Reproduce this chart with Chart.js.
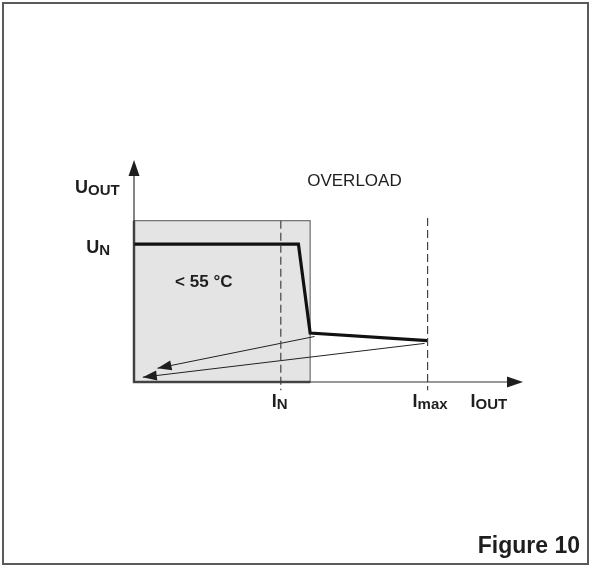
<!DOCTYPE html>
<html lang="en">
<head>
<meta charset="UTF-8">
<title>Figure 10</title>
<script src="https://cdn.jsdelivr.net/npm/chart.js"></script>
<style>
    * { margin: 0; padding: 0; box-sizing: border-box; }
    body { background: #ffffff; width: 592px; height: 567px; overflow: hidden; }
    #wrap { position: relative; width: 592px; height: 567px; }
    #frame {
        position: absolute; left: 2px; top: 2px; width: 587px; height: 563px;
        border: 2px solid #5a5a5a;
    }
    canvas { position: absolute; left: 0; top: 0; }
</style>
</head>
<body>
<div id="wrap">
    <div id="frame"></div>
    <canvas id="chart" width="592" height="567"></canvas>
</div>

<script>
    // axis ranges (I_N = 1, U_N = 1)
    const xMax = 2.65;
    const yMax = 1.61;

    // output characteristic U_OUT vs I_OUT
    const curveX = [0, 1.12, 1.2, 2.0];
    const curveY = [1, 1, 0.355, 0.30];

    // grey "< 55 °C" region
    const boxX = [0, 1.2];
    const boxY = [0, 1.17];

    // dashed markers I_N and I_max
    const markerX = [1, 2];
    const markerTop = [1.17, 1.19];
    const markerBottom = -0.06;

    // return arrows (start -> tip)
    const arrow1X = [1.23, 0.16];
    const arrow1Y = [0.33, 0.10];
    const arrow2X = [1.98, 0.06];
    const arrow2Y = [0.28, 0.035];

    const pts = (xs, ys) => xs.map((x, i) => ({ x: x, y: ys[i] }));
    const FONT = '"Liberation Sans", Arial, sans-serif';
    const INK = '#1e1e1e';

    function head(ctx, x1, y1, x2, y2, len, half) {
        const a = Math.atan2(y2 - y1, x2 - x1);
        ctx.beginPath();
        ctx.moveTo(x2, y2);
        ctx.lineTo(x2 - len * Math.cos(a) + half * Math.sin(a), y2 - len * Math.sin(a) - half * Math.cos(a));
        ctx.lineTo(x2 - len * Math.cos(a) - half * Math.sin(a), y2 - len * Math.sin(a) + half * Math.cos(a));
        ctx.closePath();
        ctx.fill();
    }

    function sub(ctx, main, small, x, y, align, bold) {
        const w = bold ? 'bold ' : '';
        ctx.font = w + '18px ' + FONT;
        const w1 = ctx.measureText(main).width;
        ctx.font = w + '15px ' + FONT;
        const w2 = ctx.measureText(small).width;
        let left = x;
        if (align === 'right') left = x - w1 - w2;
        if (align === 'center') left = x - (w1 + w2) / 2;
        ctx.textAlign = 'left';
        ctx.font = w + '18px ' + FONT;
        ctx.fillText(main, left, y);
        ctx.font = w + '15px ' + FONT;
        ctx.fillText(small, left + w1, y + 2);
    }

    const decor = {
        id: 'decor',
        beforeDatasetsDraw(chart) {
            const ctx = chart.ctx;
            const xs = chart.scales.x, ys = chart.scales.y;
            const l = xs.getPixelForValue(boxX[0]), r = xs.getPixelForValue(boxX[1]);
            const t = ys.getPixelForValue(boxY[1]), b = ys.getPixelForValue(boxY[0]);
            ctx.save();
            ctx.fillStyle = '#e4e4e4';
            ctx.fillRect(l, t, r - l, b - t);
            ctx.strokeStyle = '#6e6e6e';
            ctx.lineWidth = 1.2;
            ctx.strokeRect(l, t, r - l, b - t);
            ctx.strokeStyle = '#555';
            ctx.lineWidth = 2.5;
            ctx.beginPath();
            ctx.moveTo(l, t);
            ctx.lineTo(l, b);
            ctx.lineTo(r, b);
            ctx.stroke();
            ctx.restore();
        },
        afterDatasetsDraw(chart) {
            const ctx = chart.ctx;
            const xs = chart.scales.x, ys = chart.scales.y;
            const x0 = xs.getPixelForValue(0), y0 = ys.getPixelForValue(0);
            const xe = xs.getPixelForValue(xMax), ye = ys.getPixelForValue(yMax);
            ctx.save();
            // axes
            ctx.strokeStyle = '#333';
            ctx.fillStyle = INK;
            ctx.lineWidth = 1.2;
            ctx.beginPath();
            ctx.moveTo(x0, y0);
            ctx.lineTo(x0, ye + 10);
            ctx.moveTo(x0, y0);
            ctx.lineTo(xe - 10, y0);
            ctx.stroke();
            head(ctx, x0, y0, x0, ye, 16, 5.5);
            head(ctx, x0, y0, xe, y0, 16, 5.5);
            // arrowheads on return lines
            [[arrow1X, arrow1Y], [arrow2X, arrow2Y]].forEach(([ax, ay]) => {
                head(ctx, xs.getPixelForValue(ax[0]), ys.getPixelForValue(ay[0]),
                    xs.getPixelForValue(ax[1]), ys.getPixelForValue(ay[1]), 14, 5);
            });

            // labels
            ctx.fillStyle = INK;
            ctx.textBaseline = 'alphabetic';
            sub(ctx, 'U', 'OUT', x0 - 59, ye + 33, 'left', true);
            sub(ctx, 'U', 'N', x0 - 24, ys.getPixelForValue(1) + 9, 'right', true);
            sub(ctx, 'I', 'N', xs.getPixelForValue(markerX[0]) - 9, y0 + 25, 'left', true);
            sub(ctx, 'I', 'max', xs.getPixelForValue(markerX[1]) - 15, y0 + 25, 'left', true);
            sub(ctx, 'I', 'OUT', xs.getPixelForValue(markerX[1]) + 43, y0 + 25, 'left', true);

            ctx.textAlign = 'left';
            ctx.font = '17px ' + FONT;
            ctx.fillText('OVERLOAD', xs.getPixelForValue(1.18), ye + 26);
            ctx.font = 'bold 17px ' + FONT;
            ctx.fillText('< 55 °C', xs.getPixelForValue(0.28), ys.getPixelForValue(0.69));

            ctx.textAlign = 'right';
            ctx.font = 'bold 23px ' + FONT;
            ctx.fillText('Figure 10', 580, 553);
            ctx.restore();
        }
    };

    new Chart(document.getElementById('chart'), {
        type: 'scatter',
        data: {
            datasets: [
                {
                    data: pts([markerX[0], markerX[0]], [markerTop[0], markerBottom]),
                    showLine: true, borderColor: '#444', borderWidth: 1.2, borderDash: [8, 4],
                    pointRadius: 0, clip: false
                },
                {
                    data: pts([markerX[1], markerX[1]], [markerTop[1], markerBottom]),
                    showLine: true, borderColor: '#444', borderWidth: 1.2, borderDash: [8, 4],
                    pointRadius: 0, clip: false
                },
                {
                    data: pts(arrow1X, arrow1Y),
                    showLine: true, borderColor: '#222', borderWidth: 1, pointRadius: 0
                },
                {
                    data: pts(arrow2X, arrow2Y),
                    showLine: true, borderColor: '#222', borderWidth: 1, pointRadius: 0
                },
                {
                    data: pts(curveX, curveY),
                    showLine: true, borderColor: '#111', borderWidth: 3.2, pointRadius: 0,
                    borderJoinStyle: 'miter', tension: 0
                }
            ]
        },
        options: {
            responsive: false,
            animation: false,
            events: [],
            layout: { padding: { left: 134, right: 69, top: 160, bottom: 185 } },
            plugins: { legend: { display: false }, tooltip: { enabled: false } },
            scales: {
                x: { type: 'linear', min: 0, max: xMax, display: false },
                y: { type: 'linear', min: 0, max: yMax, display: false }
            }
        },
        plugins: [decor]
    });
</script>
</body>
</html>
